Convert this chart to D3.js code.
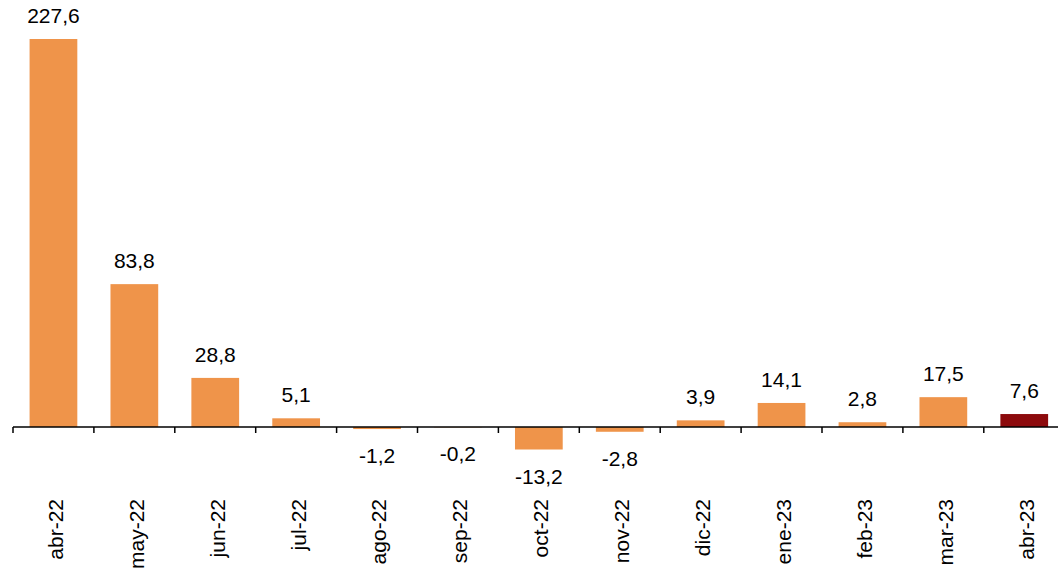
<!DOCTYPE html>
<html>
<head>
<meta charset="utf-8">
<script src="https://cdn.jsdelivr.net/npm/d3@7"></script>
<style>
  body { margin: 0; background: #fff; }
  svg { display: block; font-family: "Liberation Sans", Arial, sans-serif; }
</style>
</head>
<body>
<div id="chart"></div>
<script>
// datos
const categories = ['abr-22','may-22','jun-22','jul-22','ago-22','sep-22','oct-22','nov-22','dic-22','ene-23','feb-23','mar-23','abr-23'];
const values = [227.6, 83.8, 28.8, 5.1, -1.2, -0.2, -13.2, -2.8, 3.9, 14.1, 2.8, 17.5, 7.6];
const valueLabels = ['227,6','83,8','28,8','5,1','-1,2','-0,2','-13,2','-2,8','3,9','14,1','2,8','17,5','7,6'];

const w = 1058, h = 571;
const svg = d3.select('#chart').append('svg').attr('width', w).attr('height', h);

// x escala
const xScale = d3.scaleBand().domain(categories).range([13, 13 + 13 * 80.9])
  .paddingInner(0.41).paddingOuter(0.205);
// y escala
const yScale = d3.scaleLinear().domain([0, 227.6]).range([427, 39]);

const gap = (xScale.step() - xScale.bandwidth()) / 2;

svg.selectAll('rect.bar').data(values).enter().append('rect')
  .attr('class', 'bar')
  .attr('x', (d, i) => xScale(categories[i]))
  .attr('width', xScale.bandwidth())
  .attr('y', d => yScale(Math.max(0, d)))
  .attr('height', d => Math.abs(yScale(d) - yScale(0)))
  .attr('fill', (d, i) => i === values.length - 1 ? '#8C0A0C' : '#EF944A');

// etiquetas de valor
svg.selectAll('text.val').data(values).enter().append('text')
  .attr('class', 'val')
  .attr('x', (d, i) => xScale(categories[i]) + xScale.bandwidth() / 2)
  .attr('y', d => d >= 0 ? yScale(d) - 16 : yScale(d) + 34)
  .attr('text-anchor', 'middle')
  .attr('font-size', 21)
  .attr('fill', '#000')
  .text((d, i) => valueLabels[i]);

// eje
const axisY = yScale(0);
svg.append('line').attr('x1', 13).attr('x2', w).attr('y1', axisY).attr('y2', axisY)
  .attr('stroke', '#000').attr('stroke-width', 1.5);

svg.selectAll('line.tick').data(categories).enter().append('line')
  .attr('class', 'tick')
  .attr('x1', d => xScale(d) - gap).attr('x2', d => xScale(d) - gap)
  .attr('y1', axisY).attr('y2', axisY + 6)
  .attr('stroke', '#000').attr('stroke-width', 1.5);

svg.selectAll('text.cat').data(categories).enter().append('text')
  .attr('class', 'cat')
  .attr('transform', d => 'translate(' + (xScale(d) + xScale.bandwidth() / 2 + 2) + ',499) rotate(-90)')
  .attr('dy', '0.35em')
  .attr('text-anchor', 'end')
  .attr('font-size', 21)
  .attr('fill', '#000')
  .text(d => d);
</script>
</body>
</html>
